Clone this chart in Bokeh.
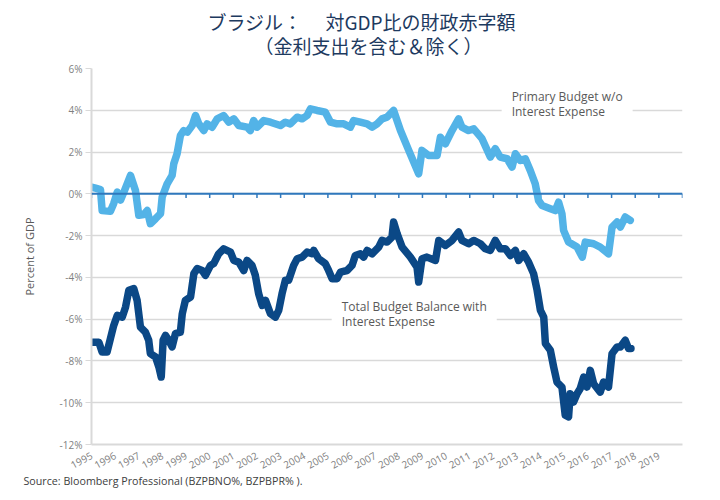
from bokeh.plotting import figure
from bokeh.models import FixedTicker, PrintfTickFormatter, Label, Span, Title
from bokeh.embed import file_html
from bokeh.resources import INLINE

# ---------------- data ----------------
years_primary = [
    1995.0, 1995.17, 1995.38, 1995.45, 1995.8, 1995.94, 1996.09, 1996.23, 1996.37, 1996.65,
    1996.86, 1997.0, 1997.21, 1997.36, 1997.49, 1997.71, 1997.92, 1997.99, 1998.2, 1998.41,
    1998.48, 1998.62, 1998.76, 1998.9, 1999.05, 1999.26, 1999.4, 1999.54, 1999.75, 1999.89,
    2000.1, 2000.32, 2000.59, 2000.81, 2001.02, 2001.23, 2001.58, 2001.72, 2001.86, 2002.01,
    2002.29, 2002.57, 2002.99, 2003.2, 2003.41, 2003.7, 2003.91, 2004.12, 2004.26, 2004.54,
    2004.89, 2005.11, 2005.39, 2005.67, 2005.95, 2006.09, 2006.37, 2006.66, 2006.87, 2007.08,
    2007.29, 2007.5, 2007.78, 2008.07, 2008.42, 2008.84, 2008.98, 2009.26, 2009.62, 2009.76,
    2009.97, 2010.25, 2010.53, 2010.67, 2010.95, 2011.17, 2011.52, 2011.87, 2012.08, 2012.29,
    2012.58, 2012.79, 2012.93, 2013.14, 2013.35, 2013.56, 2013.77, 2013.91, 2014.06, 2014.41,
    2014.62, 2014.76, 2014.9, 2014.97, 2015.18, 2015.54, 2015.76, 2015.89, 2016.24, 2016.52,
    2016.87, 2017.02, 2017.23, 2017.37, 2017.58, 2017.79,
]
primary = [
    0.32, 0.27, 0.2, -0.8, -0.83, -0.46, 0.08, -0.3, 0.08, 0.88,
    0.16, -1.03, -0.99, -0.8, -1.43, -1.19, -0.95, -0.15, 0.48, 0.88,
    1.44, 1.92, 2.79, 3.03, 2.95, 3.27, 3.75, 3.35, 3.03, 3.35,
    3.19, 3.59, 3.75, 3.43, 3.59, 3.27, 3.19, 3.03, 3.51, 3.19,
    3.51, 3.43, 3.27, 3.43, 3.35, 3.67, 3.59, 3.75, 4.07, 3.99,
    3.91, 3.43, 3.35, 3.35, 3.19, 3.51, 3.43, 3.35, 3.19, 3.35,
    3.59, 3.67, 3.99, 3.03, 2.08, 0.96, 2.08, 1.84, 1.84, 2.71,
    2.4, 3.03, 3.59, 3.19, 3.03, 3.11, 2.64, 1.76, 2.16, 1.76,
    1.68, 1.28, 1.92, 1.6, 1.68, 1.12, 0.48, -0.32, -0.56, -0.71,
    -0.8, -0.4, -0.95, -1.75, -2.31, -2.55, -3.03, -2.31, -2.39, -2.55,
    -2.87, -1.59, -1.35, -1.59, -1.11, -1.27,
]

years_total = [
    1995.0, 1995.31, 1995.45, 1995.66, 1995.8, 1995.94, 1996.09, 1996.3, 1996.44, 1996.58,
    1996.79, 1996.93, 1997.07, 1997.28, 1997.42, 1997.49, 1997.71, 1997.85, 1997.95, 1998.03,
    1998.13, 1998.27, 1998.41, 1998.55, 1998.76, 1998.84, 1998.97, 1999.19, 1999.33, 1999.47,
    1999.68, 1999.82, 2000.03, 2000.17, 2000.38, 2000.59, 2000.88, 2001.02, 2001.23, 2001.44,
    2001.58, 2001.79, 2001.93, 2002.07, 2002.22, 2002.36, 2002.57, 2002.78, 2002.92, 2003.06,
    2003.2, 2003.34, 2003.55, 2003.7, 2003.91, 2004.12, 2004.33, 2004.4, 2004.61, 2004.89,
    2005.03, 2005.18, 2005.39, 2005.53, 2005.81, 2006.02, 2006.16, 2006.37, 2006.51, 2006.66,
    2006.87, 2007.15, 2007.29, 2007.5, 2007.71, 2007.78, 2007.93, 2008.14, 2008.49, 2008.77,
    2008.84, 2008.98, 2009.19, 2009.55, 2009.69, 2009.97, 2010.25, 2010.53, 2010.67, 2010.95,
    2011.17, 2011.45, 2011.66, 2011.87, 2012.08, 2012.29, 2012.51, 2012.72, 2012.93, 2013.07,
    2013.28, 2013.49, 2013.7, 2013.85, 2013.99, 2014.13, 2014.2, 2014.41, 2014.55, 2014.69,
    2014.9, 2015.04, 2015.18, 2015.25, 2015.39, 2015.54, 2015.67, 2015.82, 2015.96, 2016.1,
    2016.24, 2016.52, 2016.66, 2016.87, 2017.02, 2017.23, 2017.37, 2017.58, 2017.72, 2017.82,
]
total = [
    -7.1, -7.1, -7.57, -7.57, -6.93, -6.3, -5.82, -5.9, -5.42, -4.62,
    -4.54, -5.1, -6.38, -6.62, -7.01, -7.65, -7.81, -8.29, -8.77, -7.01,
    -6.78, -7.01, -7.33, -6.69, -6.62, -5.74, -5.1, -4.94, -3.82, -3.58,
    -3.67, -3.9, -3.43, -3.34, -2.87, -2.63, -2.79, -3.19, -3.27, -3.67,
    -3.19, -3.43, -3.9, -4.78, -5.34, -5.1, -5.74, -5.9, -5.58, -4.78,
    -4.14, -4.14, -3.43, -3.11, -3.03, -2.79, -2.87, -2.71, -3.11, -3.34,
    -3.67, -4.06, -4.06, -3.75, -3.67, -3.43, -2.95, -2.87, -3.03, -2.71,
    -2.87, -2.55, -2.23, -2.31, -2.07, -1.35, -1.91, -2.55, -3.03, -3.51,
    -4.22, -3.11, -3.03, -3.19, -2.23, -2.47, -2.23, -1.83, -2.23, -2.39,
    -2.23, -2.39, -2.63, -2.71, -2.23, -2.63, -2.63, -2.95, -2.71, -3.19,
    -2.87, -3.27, -3.82, -4.62, -5.58, -5.9, -7.17, -7.49, -8.29, -9.01,
    -9.25, -10.6, -10.68, -9.57, -9.97, -9.57, -9.33, -8.77, -9.25, -8.45,
    -9.09, -9.49, -9.01, -9.25, -7.65, -7.33, -7.33, -7.01, -7.41, -7.41,
]

x_tick_years = list(range(1995, 2020))
zero_tick_years = list(range(1995, 2021))
y_ticks = [-12, -10, -8, -6, -4, -2, 0, 2, 4, 6]

title_line1 = "ブラジル：　 対GDP比の財政赤字額"
title_line2 = "（金利支出を含む＆除く）"
primary_name = "Primary Budget w/o\nInterest Expense"
total_name = "Total Budget Balance with\nInterest Expense"
source_text = "Source:  Bloomberg Professional (BZPBNO%, BZPBPR% )."

# ---------------- styling ----------------
LIGHT = "#53b3e7"
DARK = "#0b4886"
ZERO = "#2f78bd"
GRID = "#d9d9d9"
TXT = "#595959"
TICK_TXT = "#7f7f7f"
TITLE_C = "#1d3a5f"
FONT = "Open Sans"
CJK = "Noto Sans CJK JP"

p = figure(width=704, height=492, x_range=(1995, 2020), y_range=(-12, 6),
           output_backend="svg", toolbar_location=None,
           min_border_left=91, min_border_right=22, min_border_top=68, min_border_bottom=48)
p.outline_line_color = None
p.background_fill_color = "white"

# axes
p.xaxis.ticker = FixedTicker(ticks=x_tick_years)
p.xaxis.major_label_orientation = 0.5
p.xaxis.major_tick_line_color = None
p.xaxis.minor_tick_line_color = None
p.xaxis.axis_line_color = GRID
p.xaxis.axis_line_width = 2
p.xaxis.major_label_text_color = TICK_TXT
p.xaxis.major_label_text_font = FONT
p.xaxis.major_label_text_font_size = "10px"
p.xaxis.major_label_standoff = 4

p.yaxis.ticker = FixedTicker(ticks=y_ticks)
p.yaxis.formatter = PrintfTickFormatter(format="%d%%")
p.yaxis.major_tick_out = 6
p.yaxis.major_tick_in = 0
p.yaxis.major_tick_line_color = GRID
p.yaxis.minor_tick_line_color = None
p.yaxis.axis_line_color = GRID
p.yaxis.axis_line_width = 2
p.yaxis.major_label_text_color = TICK_TXT
p.yaxis.major_label_text_font = FONT
p.yaxis.major_label_text_font_size = "10px"
p.yaxis.major_label_standoff = 3
p.yaxis.axis_label = "Percent of GDP"
p.yaxis.axis_label_text_font = FONT
p.yaxis.axis_label_text_font_size = "11px"
p.yaxis.axis_label_text_font_style = "normal"
p.yaxis.axis_label_text_color = TXT
p.yaxis.axis_label_standoff = 20

p.xgrid.visible = False
p.ygrid.grid_line_color = GRID
p.ygrid.grid_line_width = 1.5

# zero line with small year ticks
p.add_layout(Span(location=0, dimension="width", line_color=ZERO, line_width=2))
p.segment(x0=zero_tick_years, y0=[0] * len(zero_tick_years),
          x1=zero_tick_years, y1=[-0.2] * len(zero_tick_years),
          line_color=ZERO, line_width=1.5)

# series
p.line(years_primary, primary, line_color=LIGHT, line_width=7.5,
       line_join="round", line_cap="round")
p.line(years_total, total, line_color=DARK, line_width=7.5,
       line_join="round", line_cap="round")

# series annotations
p.add_layout(Label(x=2012.35, y=5.14, text=primary_name, text_align="left",
                   text_baseline="top", text_font=FONT, text_font_size="12px",
                   text_line_height=0.86,
                   text_color=TXT, background_fill_color="white",
                   padding=(10, 2)))
p.add_layout(Label(x=2005.16, y=-4.91, text=total_name, text_align="left",
                   text_baseline="top", text_font=FONT, text_font_size="12px",
                   text_line_height=0.86,
                   text_color=TXT, background_fill_color="white",
                   padding=(10, 2)))

# titles (second line first: later 'above' items sit further from the frame)
p.add_layout(Title(text=title_line2, align="left", offset=163, standoff=20,
                   text_font=CJK, text_font_size="19px", text_font_style="normal",
                   text_color=TITLE_C), "above")
p.add_layout(Title(text=title_line1, align="left", offset=116, standoff=-31,
                   text_font=CJK, text_font_size="19px", text_font_style="normal",
                   text_color=TITLE_C), "above")

# source
p.add_layout(Title(text=source_text, align="left", offset=-68, standoff=-8,
                   text_font=FONT, text_font_size="10.7px", text_font_style="normal",
                   text_color="#404040"), "below")

open("out.html", "w").write(file_html(p, INLINE))
